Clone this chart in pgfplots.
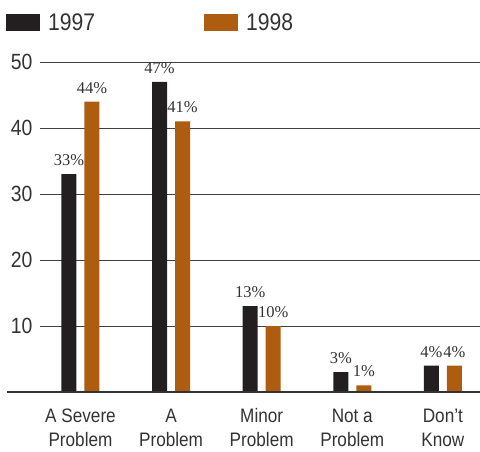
\documentclass[border=0pt]{standalone}
\usepackage{pgfplots}
\pgfplotsset{compat=1.18}
\usepackage{fontspec}
\setmainfont{Liberation Sans}[FakeStretch=0.88]
\newfontfamily\serif{Liberation Serif}
\definecolor{cblack}{HTML}{231F20}
\definecolor{corange}{HTML}{AD5C10}
\definecolor{ctext}{HTML}{333333}
\begin{document}
\begin{tikzpicture}[x=1pt,y=1pt]
\path[use as bounding box] (0,0) rectangle (480,-451);
\begin{axis}[
 at={(40pt,-392pt)}, anchor=south west,
 scale only axis, width=440pt, height=330pt,
 xmin=-0.447, xmax=4.41, ymin=0, ymax=50,
 ybar, bar width=15pt,
 xtick={0,1,2,3,4},
 xticklabels={{A Severe\\Problem},{A\\Problem},{Minor\\Problem},{Not a\\Problem},{Don’t\\Know}},
 xticklabel style={align=center, font=\fontsize{19.5}{24}\selectfont, text=ctext, yshift=-9pt},
 ytick={10,20,30,40,50},
 yticklabel style={font=\fontsize{22}{24}\selectfont, text=ctext, xshift=-4pt},
 /pgf/number format/assume math mode=true,
 ymajorgrids, grid style={black!75, line width=0.9pt},
 axis line style={draw=none}, major tick style={draw=none},
 nodes near coords={\pgfmathprintnumber{\pgfplotspointmeta}\%},
 nodes near coords style={font=\serif\fontsize{16.5}{16.5}\selectfont, text=ctext, inner sep=0pt, anchor=south, yshift=8pt},
 clip=false,
 legend columns=2,
 legend style={at={(-0.0773,1.1197)}, anchor=west, draw=none, fill=none, inner sep=0pt,
   font=\fontsize{24}{24}\selectfont, text=ctext,
   /tikz/every even column/.append style={column sep=107pt}},
 legend image code/.code={\fill[#1, draw=none] (0pt,-8.5pt) rectangle (34pt,8.5pt); \path (40pt,0pt);},
]
\addplot[fill=cblack, draw=none, bar shift=-11.5pt] coordinates {(0,33) (1,47) (2,13) (3,3) (4,4)};
\addplot[fill=corange, draw=none, bar shift=11.5pt] coordinates {(0,44) (1,41) (2,10) (3,1) (4,4)};
\legend{1997,1998}
\draw[ctext, line width=2.5pt] (axis cs:-0.811,0) -- (axis cs:4.41,0);
\end{axis}
\end{tikzpicture}
\end{document}
